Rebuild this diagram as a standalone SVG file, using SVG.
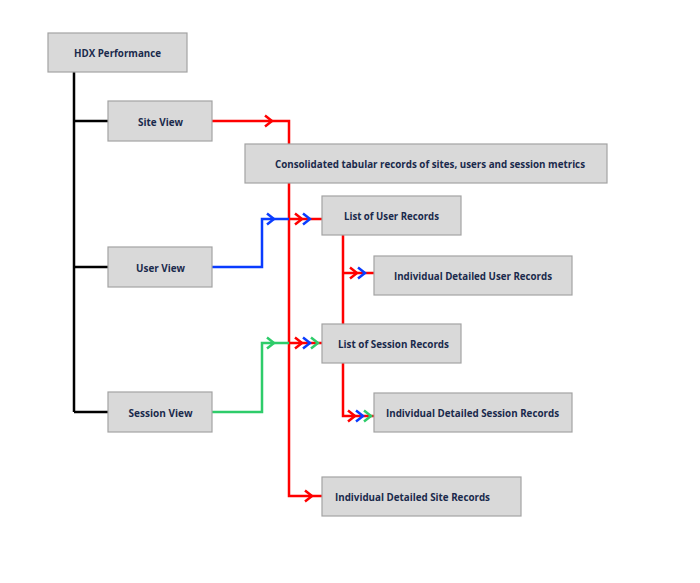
<svg xmlns="http://www.w3.org/2000/svg" width="700" height="583" viewBox="0 0 700 583">
<defs>
<style>
.box{fill:#D9D9D9;stroke:#A3A3A3;stroke-width:1.2}
.lbl{font-family:"Open Sans","Noto Sans","DejaVu Sans",sans-serif;font-weight:bold;font-size:11.2px;fill:#1A2A4C;text-anchor:middle}
.ln{fill:none;stroke-width:2.5}
.r{stroke:#FF0000}.b{stroke:#0A3CFF}.g{stroke:#2ECC6A}.k{stroke:#000}
.chev{fill:none;stroke-width:2.5;stroke-linejoin:miter}
</style>
<path id="cv" d="M-7,-5.5 L0,0 L-7,5.5"/>
</defs>
<rect width="700" height="583" fill="#fff"/>
<g id="connectors">
<path class="ln k" d="M74,72 V412 M74,121 H108 M74,267 H108 M74,412 H108"/>
<path class="ln r" d="M212,121 H289 V496 H322"/>
<path class="ln b" d="M212,267 H262 V219 H289"/>
<path class="ln g" d="M212,412 H262 V343 H289"/>
<path class="ln r" d="M289,219 H322 M289,343 H322"/>
<path class="ln r" d="M343,235 V324 M343,273 H374 M343,363 V416 H374"/>
<g class="chev">
<use href="#cv" class="r" x="272" y="121"/>
<use href="#cv" class="b" x="274" y="219"/>
<use href="#cv" class="r" x="302" y="219"/>
<use href="#cv" class="b" x="310" y="219"/>
<use href="#cv" class="r" x="357" y="273"/>
<use href="#cv" class="b" x="365" y="273"/>
<use href="#cv" class="g" x="274" y="343"/>
<use href="#cv" class="r" x="302" y="343"/>
<use href="#cv" class="b" x="310" y="343"/>
<use href="#cv" class="g" x="318" y="343"/>
<use href="#cv" class="r" x="355" y="416"/>
<use href="#cv" class="b" x="363" y="416"/>
<use href="#cv" class="g" x="371" y="416"/>
<use href="#cv" class="r" x="312" y="496"/>
</g>
</g>
<g id="hdx"><rect class="box" x="48" y="33" width="139" height="39"/><text class="lbl" x="117.5" y="57" textLength="87" lengthAdjust="spacingAndGlyphs">HDX Performance</text></g>
<g id="site-view"><rect class="box" x="108" y="101" width="104" height="40"/><text class="lbl" x="160.5" y="125.5" textLength="45" lengthAdjust="spacingAndGlyphs">Site View</text></g>
<g id="user-view"><rect class="box" x="108" y="247" width="104" height="40"/><text class="lbl" x="160.5" y="271.5" textLength="49" lengthAdjust="spacingAndGlyphs">User View</text></g>
<g id="session-view"><rect class="box" x="108" y="392" width="104" height="40"/><text class="lbl" x="160.5" y="416.5" textLength="64" lengthAdjust="spacingAndGlyphs">Session View</text></g>
<g id="consolidated"><rect class="box" x="245" y="144" width="362" height="39"/><text class="lbl" x="430" y="168" textLength="310" lengthAdjust="spacingAndGlyphs">Consolidated tabular records of sites, users and session metrics</text></g>
<g id="user-list"><rect class="box" x="322" y="196" width="139" height="39"/><text class="lbl" x="391.5" y="220" textLength="95" lengthAdjust="spacingAndGlyphs">List of User Records</text></g>
<g id="user-detail"><rect class="box" x="374" y="256" width="198" height="39"/><text class="lbl" x="473" y="280" textLength="158" lengthAdjust="spacingAndGlyphs">Individual Detailed User Records</text></g>
<g id="session-list"><rect class="box" x="322" y="324" width="139" height="39"/><text class="lbl" x="393.5" y="348" textLength="111" lengthAdjust="spacingAndGlyphs">List of Session Records</text></g>
<g id="session-detail"><rect class="box" x="374" y="393" width="198" height="39"/><text class="lbl" x="472.5" y="417" textLength="173" lengthAdjust="spacingAndGlyphs">Individual Detailed Session Records</text></g>
<g id="site-detail"><rect class="box" x="322" y="477" width="199" height="39"/><text class="lbl" x="412.5" y="501" textLength="155" lengthAdjust="spacingAndGlyphs">Individual Detailed Site Records</text></g>
</svg>
